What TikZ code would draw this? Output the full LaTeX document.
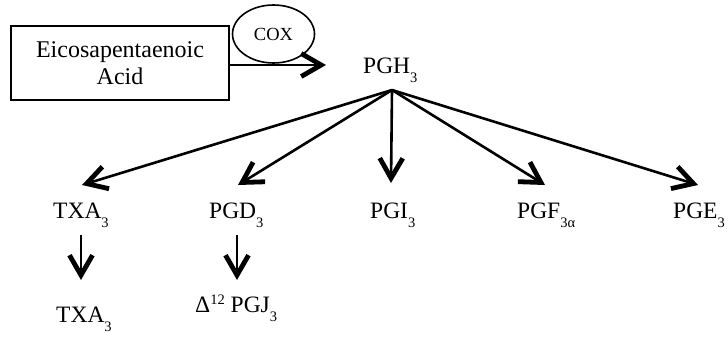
\documentclass[tikz,border=0pt]{standalone}
\usepackage{fontspec}
\setmainfont{Liberation Serif}
\usetikzlibrary{arrows.meta,shapes.geometric}

% lowered subscript and raised superscript in a small size
\newcommand\lowsub[1]{\raisebox{-9pt}{\fontsize{14.5}{14.5}\selectfont #1}}
\newcommand\highsup[1]{\raisebox{8pt}{\fontsize{14.5}{14.5}\selectfont #1}}

\tikzset{
  lbl/.style={inner sep=0pt, anchor=base west, font=\fontsize{23.5}{27}\selectfont},
  conn/.style={line width=2.6pt, -{Straight Barb[length=20pt, width=23pt, line width=4.8pt]}},
  srcbox/.style={draw, line width=2.2pt, minimum width=218pt, minimum height=74pt,
    inner sep=0pt, align=center, font=\fontsize{24}{27}\selectfont},
  enzyme/.style={draw, line width=1.6pt, ellipse, minimum width=82pt, minimum height=58pt,
    inner sep=0pt, font=\fontsize{18.5}{18.5}\selectfont}
}

\begin{document}
\begin{tikzpicture}[x=1pt, y=-1pt]
\useasboundingbox (0,0) rectangle (728,337);

% substrate and enzyme
\node[srcbox] (epa) at (120,63) {Eicosapentaenoic\\Acid};
\node[enzyme] (cox) at (273.5,34) {COX};

% central intermediate
\node[lbl] (pgh) at (363,74) {PGH\lowsub{3}};
\coordinate (apex) at (392,90);

% products
\node[lbl] (txa) at (53,218) {TXA\lowsub{3}};
\node[lbl] (pgd) at (209,218) {PGD\lowsub{3}};
\node[lbl] (pgi) at (370,218) {PGI\lowsub{3}};
\node[lbl] (pgf) at (517,218) {PGF\lowsub{3α}};
\node[lbl] (pge) at (673,218) {PGE\lowsub{3}};

% secondary products
\node[lbl] (txb) at (56,322) {TXA\lowsub{3}};
\node[lbl] (pgj) at (195,312) {Δ\highsup{12} PGJ\lowsub{3}};

% arrow end points
\coordinate (tPGH) at (326,65);
\coordinate (tTXA) at (82,185);
\coordinate (tPGD) at (238,185);
\coordinate (tPGI) at (391,183);
\coordinate (tPGF) at (545,185);
\coordinate (tPGE) at (698,185);
\coordinate (sTXB) at (81,235);
\coordinate (tTXB) at (81,280);
\coordinate (sPGJ) at (237,235);
\coordinate (tPGJ) at (237,280);

% connectors
\draw[conn] (epa.east |- tPGH) -- (tPGH);
\draw[conn] (apex) -- (tTXA);
\draw[conn] (apex) -- (tPGD);
\draw[conn] (apex) -- (tPGI);
\draw[conn] (apex) -- (tPGF);
\draw[conn] (apex) -- (tPGE);
\draw[conn] (sTXB) -- (tTXB);
\draw[conn] (sPGJ) -- (tPGJ);
\end{tikzpicture}
\end{document}
